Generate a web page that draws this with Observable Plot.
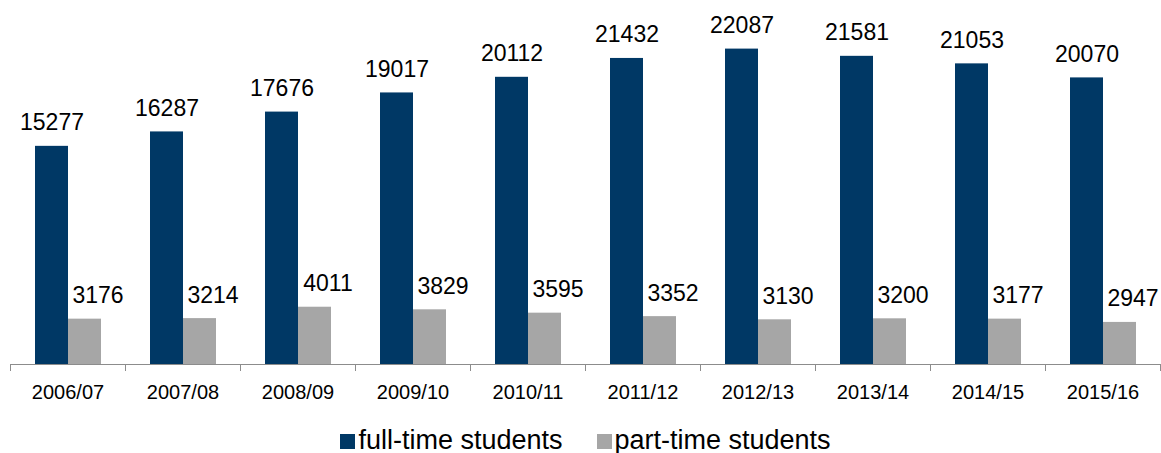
<!DOCTYPE html>
<html>
<head>
<meta charset="utf-8">
<script src="https://cdn.jsdelivr.net/npm/d3@7"></script>
<script src="https://cdn.jsdelivr.net/npm/@observablehq/plot@0.6"></script>
<style>
  html, body { margin: 0; padding: 0; background: #fff; }
  body { font-family: "Liberation Sans", Arial, sans-serif; width: 1161px; overflow: hidden; }
  #legend { display: flex; justify-content: center; padding-top: 15px; padding-left: 10px; font-size: 27px; line-height: 27px; color: #000; }
  .item { white-space: nowrap; }
  .item + .item { margin-left: 34px; }
  .sw { display: inline-block; width: 15px; height: 15px; margin-right: 3px; vertical-align: baseline; }
</style>
</head>
<body>
<div id="chart"></div>
<div id="legend"></div>
<script>
const years = ["2006/07","2007/08","2008/09","2009/10","2010/11","2011/12","2012/13","2013/14","2014/15","2015/16"];
const fullTime = [15277,16287,17676,19017,20112,21432,22087,21581,21053,20070];
const partTime = [3176,3214,4011,3829,3595,3352,3130,3200,3177,2947];
const seriesNames = ["full-time students","part-time students"];
const seriesColors = ["#003865","#a6a6a6"];

const fullData = years.map((y, i) => ({year: y, value: fullTime[i]}));
const partData = years.map((y, i) => ({year: y, value: partTime[i]}));

const chart = Plot.plot({
  width: 1161,
  height: 412,
  marginTop: 7,
  marginBottom: 48,
  marginLeft: 10,
  marginRight: 1,
  style: {fontFamily: "'Liberation Sans', Arial, sans-serif", background: "#fff", color: "#000"},
  x: {domain: years, padding: 0, label: null},
  y: {domain: [0, 25000], axis: null, label: null},
  marks: [
    Plot.barY(fullData, {x: "year", y: "value", fill: seriesColors[0], insetLeft: 25, insetRight: 57}),
    Plot.barY(partData, {x: "year", y: "value", fill: seriesColors[1], insetLeft: 58, insetRight: 24}),
    Plot.text(fullData, {x: "year", y: "value", text: d => String(d.value), dx: -16, dy: -16, lineAnchor: "bottom", fontSize: 23, fill: "#000"}),
    Plot.text(partData, {x: "year", y: "value", text: d => String(d.value), dx: 30, dy: -16, lineAnchor: "bottom", fontSize: 23, fill: "#000"}),
    Plot.ruleY([0], {stroke: "#8c8c8c", strokeWidth: 1.2}),
    Plot.axisX({tickSize: 7, tickFormat: () => "", stroke: "#8c8c8c", dx: -57.5, label: null}),
    Plot.axisX({ticks: [years[years.length - 1]], tickSize: 7, tickFormat: () => "", stroke: "#8c8c8c", dx: 57.5, label: null}),
    Plot.axisX({tickSize: 0, tickPadding: 20, fontSize: 20, fill: "#000", label: null})
  ]
});
document.getElementById("chart").appendChild(chart);

const legend = document.getElementById("legend");
seriesNames.forEach((name, i) => {
  const item = document.createElement("span");
  item.className = "item";
  const sw = document.createElement("span");
  sw.className = "sw";
  sw.style.background = seriesColors[i];
  item.appendChild(sw);
  item.appendChild(document.createTextNode(name));
  legend.appendChild(item);
});
</script>
</body>
</html>
